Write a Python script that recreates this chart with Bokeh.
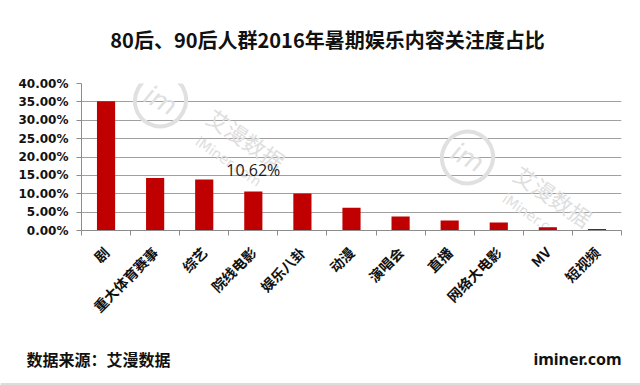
import math
from bokeh.plotting import figure
from bokeh.layouts import column
from bokeh.models import Range1d, FixedTicker, PrintfTickFormatter, Label, ColumnDataSource, Span
from bokeh.embed import file_html
from bokeh.resources import INLINE
from bokeh.core.properties import value

# ---------------- data ----------------
title_text = "80后、90后人群2016年暑期娱乐内容关注度占比"
categories = ["剧", "重大体育赛事", "综艺", "院线电影", "娱乐八卦", "动漫",
              "演唱会", "直播", "网络大电影", "MV", "短视频"]
shares = [35.2, 14.3, 13.9, 10.62, 10.1, 6.2, 3.8, 2.7, 2.2, 0.9, 0.4]
y_ticks = [0, 5, 10, 15, 20, 25, 30, 35, 40]
highlight_category = "院线电影"
highlight_label = "10.62%"
source_text = "数据来源：艾漫数据"
brand_text = "iminer.com"
watermark_cn = "艾漫数据"
watermark_en = "iMiner.com"

W = 640
GRAY = "#8c8c8c"
CJK = "Noto Sans CJK SC"


def blank(height):
    f = figure(width=W, height=height, output_backend="svg", toolbar_location=None,
               x_range=Range1d(0, W), y_range=Range1d(0, height),
               x_axis_type=None, y_axis_type=None, min_border=0)
    f.outline_line_color = None
    f.grid.visible = False
    f.frame_align = False
    return f


# ---------------- header ----------------
header = blank(60)
header.add_layout(Label(x=327, y=21, x_units="screen", y_units="screen", text=title_text,
                        text_font=CJK, text_font_style="bold", text_font_size="20px",
                        text_color="#111111", text_align="center", text_baseline="middle"))

# ---------------- main chart ----------------
positions = list(range(len(categories)))
src = ColumnDataSource(dict(x=positions, top=shares, name=categories))

p = figure(width=W, height=275, output_backend="svg", toolbar_location=None,
           x_range=Range1d(-0.5, len(categories) - 0.5),
           y_range=Range1d(y_ticks[0], y_ticks[-1]),
           min_border_left=81, min_border_right=19,
           min_border_top=23, min_border_bottom=105)
p.outline_line_color = None
p.frame_align = False

# x axis
p.xaxis.ticker = FixedTicker(ticks=positions,
                             minor_ticks=[i - 0.5 for i in range(len(categories) + 1)])
p.xaxis.major_label_overrides = {i: c for i, c in enumerate(categories)}
p.xaxis.major_tick_line_color = None
p.xaxis.major_tick_out = 0
p.xaxis.major_tick_in = 0
p.xaxis.minor_tick_line_color = GRAY
p.xaxis.minor_tick_out = 5
p.xaxis.minor_tick_in = 0
p.xaxis.axis_line_color = GRAY
p.xaxis.major_label_orientation = math.pi / 4
p.xaxis.major_label_text_font = CJK
p.xaxis.major_label_text_font_style = "bold"
p.xaxis.major_label_text_font_size = "14px"
p.xaxis.major_label_text_color = "#111111"
p.xaxis.major_label_standoff = 14

# y axis
p.yaxis.ticker = FixedTicker(ticks=y_ticks)
p.yaxis.formatter = PrintfTickFormatter(format="%.2f%%")
p.yaxis.major_tick_out = 5
p.yaxis.major_tick_in = 0
p.yaxis.major_tick_line_color = GRAY
p.yaxis.minor_tick_line_color = None
p.yaxis.axis_line_color = GRAY
p.yaxis.major_label_text_font = "DejaVu Sans"
p.yaxis.major_label_text_font_style = "bold"
p.yaxis.major_label_text_font_size = "12px"
p.yaxis.major_label_text_color = "#111111"
p.yaxis.major_label_standoff = 8

p.xgrid.visible = False
p.ygrid.ticker = FixedTicker(ticks=y_ticks)
p.ygrid.grid_line_color = "#a0a0a0"
p.ygrid.grid_line_width = 1

# watermark (decorative, frame-relative screen units)
for cx, cy in [(79, 130), (386, 73)]:
    p.add_layout(Label(x=cx, y=cy, x_units="screen", y_units="screen",
                       text="im", text_font="DejaVu Sans", text_font_style="italic",
                       text_font_size="26px", text_color="#e0e0e0",
                       text_align="center", text_baseline="middle", angle=-0.5,
                       border_line_color="#e0e0e0", border_line_width=4,
                       border_radius=27, padding=(9, 11), level="underlay"))
    p.add_layout(Label(x=cx + 86, y=cy - 38, x_units="screen", y_units="screen",
                       text=watermark_cn, text_font=CJK, text_font_size="22px",
                       text_color="#dedede", angle=-0.6, text_align="center",
                       text_baseline="middle", level="underlay"))
    p.add_layout(Label(x=cx + 68, y=cy - 61, x_units="screen", y_units="screen",
                       text=watermark_en, text_font="DejaVu Sans", text_font_size="14px",
                       text_color="#dedede", angle=-0.6, text_align="center",
                       text_baseline="middle", level="underlay"))

# bars
p.vbar(x="x", top="top", width=0.37, source=src, fill_color="#C00000", line_color=None)

# highlighted value label
idx = categories.index(highlight_category)
p.text(x=[positions[idx]], y=[shares[idx]], text=[highlight_label],
       text_align="center", text_baseline="middle", y_offset=-21,
       text_font=value("Open Sans"), text_font_size="16px", text_color="#1a1a1a")

# ---------------- footer ----------------
footer = blank(50)
footer.add_layout(Label(x=26, y=27, x_units="screen", y_units="screen", text=source_text,
                        text_font=CJK, text_font_style="bold", text_font_size="16px",
                        text_color="#111111", text_align="left", text_baseline="middle"))
footer.add_layout(Label(x=621, y=27, x_units="screen", y_units="screen", text=brand_text,
                        text_font="Noto Sans", text_font_style="bold", text_font_size="16px",
                        text_color="#111111", text_align="right", text_baseline="middle"))
footer.add_layout(Span(location=1.5, dimension="width", line_color="#dcdcdc", line_width=2))

layout = column(header, p, footer, spacing=0)
open("out.html", "w").write(file_html(layout, INLINE))
